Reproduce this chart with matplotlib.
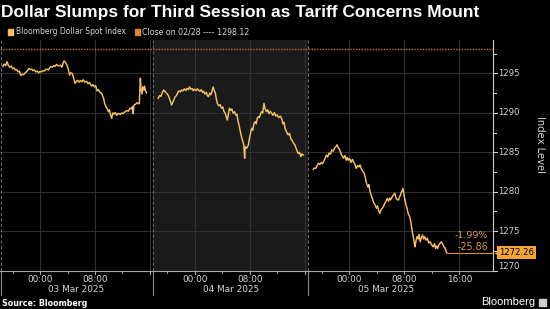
import matplotlib
matplotlib.use("Agg")
import matplotlib.pyplot as plt
import matplotlib.transforms as mtransforms
import numpy as np

# ---------------- data ----------------
# hours relative to 00:00 of each session's date (session opens 18:00 the evening before)
mar03_hours = [-5.4, -5.2, -5.0, -4.8, -4.6, -4.4, -4.2, -4.0, -3.8, -3.6, -3.4, -3.2, -3.0, -2.8, -2.6, -2.4,
               -2.2, -2.0, -1.8, -1.6, -1.4, -1.2, -1.0, -0.8, -0.6, -0.4, -0.2, 0.0, 0.2, 0.4, 0.6, 0.8, 1.0,
               1.2, 1.4, 1.6, 1.8, 2.0, 2.2, 2.4, 2.6, 2.8, 3.0, 3.2, 3.35, 3.5, 3.7, 3.9, 4.1, 4.3, 4.5, 4.7,
               4.9, 5.1, 5.3, 5.5, 5.7, 5.9, 6.1, 6.3, 6.5, 6.8, 7.0, 7.2, 7.5, 7.7, 7.9, 8.1, 8.3, 8.5, 8.7,
               8.95, 9.1, 9.25, 9.4, 9.6, 9.8, 9.95, 10.1, 10.25, 10.43, 10.6, 10.8, 10.95, 11.15, 11.4, 11.65,
               11.9, 12.1, 12.35, 12.6, 12.85, 13.1, 13.3, 13.45, 13.55, 13.65, 13.9, 14.1, 14.3, 14.45, 14.6,
               14.7, 14.85, 14.95, 15.1, 15.2, 15.35, 15.5]
mar03_values = [1295.9, 1296.2, 1296.0, 1296.5, 1296.0, 1295.8, 1295.95, 1295.6, 1295.7, 1295.45, 1295.5,
                1295.2, 1295.3, 1294.75, 1294.9, 1294.85, 1295.05, 1295.2, 1295.4, 1295.65, 1295.5, 1295.55,
                1295.35, 1295.45, 1295.2, 1295.3, 1295.1, 1295.25, 1295.2, 1295.35, 1295.3, 1295.5, 1295.55,
                1295.45, 1295.7, 1295.9, 1295.8, 1296.0, 1295.9, 1296.15, 1296.0, 1295.95, 1296.05, 1295.8,
                1296.3, 1296.6, 1296.4, 1296.1, 1295.6, 1294.8, 1295.1, 1295.0, 1294.4, 1293.75, 1294.0,
                1294.15, 1293.9, 1294.1, 1293.95, 1294.2, 1293.9, 1294.0, 1293.7, 1293.85, 1293.4, 1293.6,
                1293.3, 1293.45, 1292.8, 1292.95, 1292.6, 1292.5, 1292.2, 1291.85, 1291.2, 1290.8, 1290.5,
                1290.15, 1290.4, 1289.8, 1289.3, 1290.0, 1289.85, 1290.05, 1289.7, 1289.95, 1289.8, 1290.0,
                1289.9, 1290.15, 1290.3, 1290.2, 1290.6, 1290.5, 1290.8, 1289.9, 1290.95, 1291.1, 1291.3,
                1291.15, 1291.2, 1294.4, 1293.0, 1292.4, 1293.3, 1292.9, 1293.4, 1292.8, 1292.55]

mar04_hours = [-5.3, -5.1, -4.9, -4.7, -4.5, -4.3, -4.1, -3.9, -3.7, -3.5, -3.35, -3.2, -3.0, -2.85, -2.65,
               -2.45, -2.3, -2.1, -1.9, -1.7, -1.5, -1.3, -1.1, -0.9, -0.75, -0.55, -0.35, -0.2, 0.0, 0.2,
               0.4, 0.55, 0.75, 0.95, 1.15, 1.3, 1.5, 1.7, 1.85, 2.0, 2.2, 2.35, 2.5, 2.7, 2.85, 3.0, 3.1,
               3.3, 3.5, 3.7, 3.9, 4.1, 4.25, 4.45, 4.6, 4.75, 4.9, 5.05, 5.2, 5.4, 5.6, 5.8, 6.0, 6.15, 6.3,
               6.5, 6.65, 6.85, 7.0, 7.15, 7.27, 7.35, 7.55, 7.8, 8.0, 8.15, 8.3, 8.45, 8.6, 8.8, 8.95, 9.1,
               9.25, 9.4, 9.6, 9.75, 9.9, 10.08, 10.25, 10.45, 10.6, 10.8, 11.0, 11.2, 11.4, 11.6, 11.8,
               12.0, 12.2, 12.45, 12.65, 12.85, 13.0, 13.15, 13.35, 13.6, 13.8, 14.0, 14.15, 14.35, 14.6,
               14.8, 15.05, 15.25, 15.45, 15.6, 15.8]
mar04_values = [1291.85, 1292.2, 1292.1, 1292.6, 1292.9, 1292.7, 1292.5, 1292.3, 1291.9, 1291.4, 1291.0,
                1291.3, 1291.7, 1292.05, 1292.2, 1292.6, 1292.8, 1292.65, 1292.9, 1292.8, 1293.05, 1292.85,
                1293.1, 1292.95, 1293.3, 1293.0, 1293.1, 1292.8, 1293.0, 1292.85, 1293.05, 1292.9, 1292.75,
                1292.95, 1292.6, 1292.75, 1292.4, 1292.6, 1292.2, 1292.05, 1292.5, 1292.3, 1292.7, 1293.3,
                1292.8, 1292.55, 1292.0, 1291.2, 1290.9, 1291.05, 1290.6, 1290.75, 1290.2, 1289.95, 1289.5,
                1289.1, 1289.8, 1290.6, 1290.3, 1290.5, 1289.95, 1290.15, 1289.7, 1289.8, 1289.0, 1288.25,
                1287.6, 1286.8, 1286.4, 1285.9, 1284.25, 1285.7, 1285.5, 1285.9, 1286.9, 1287.5, 1288.05,
                1287.8, 1288.6, 1288.9, 1288.6, 1289.3, 1289.5, 1289.4, 1289.9, 1290.15, 1290.0, 1291.2,
                1290.5, 1290.15, 1290.4, 1289.9, 1290.2, 1289.95, 1289.7, 1290.05, 1289.6, 1289.75, 1289.4,
                1289.6, 1289.3, 1288.6, 1288.8, 1288.05, 1287.6, 1287.2, 1287.4, 1286.7, 1286.55, 1286.2,
                1285.9, 1285.4, 1284.85, 1285.0, 1284.45, 1284.8, 1284.65]

mar05_hours = [-5.25, -5.1, -4.9, -4.7, -4.5, -4.3, -4.1, -3.9, -3.75, -3.55, -3.35, -3.15, -2.95, -2.75,
               -2.55, -2.35, -2.15, -1.95, -1.8, -1.6, -1.4, -1.2, -1.0, -0.85, -0.65, -0.45, -0.3, -0.15,
               0.05, 0.25, 0.45, 0.6, 0.8, 1.0, 1.2, 1.4, 1.55, 1.75, 1.95, 2.15, 2.35, 2.5, 2.7, 2.85, 3.0,
               3.2, 3.4, 3.55, 3.75, 3.95, 4.1, 4.25, 4.45, 4.6, 4.8, 4.95, 5.15, 5.35, 5.5, 5.7, 5.85, 6.0,
               6.2, 6.4, 6.6, 6.8, 6.95, 7.15, 7.35, 7.6, 7.8, 7.95, 8.1, 8.25, 8.4, 8.55, 8.75, 8.95, 9.1,
               9.3, 9.45, 9.55, 9.7, 9.85, 10.0, 10.15, 10.3, 10.45, 10.65, 10.8, 10.95, 11.15, 11.35,
               11.55, 11.75, 11.95, 12.2, 12.4, 12.55, 12.7, 12.85, 13.0, 13.2, 13.4, 13.55, 13.75, 13.9,
               14.05, 14.16]
mar05_values = [1282.85, 1283.0, 1282.95, 1283.3, 1283.6, 1283.45, 1283.7, 1283.55, 1283.8, 1284.2, 1284.65,
                1284.4, 1284.9, 1284.75, 1285.3, 1285.15, 1285.55, 1285.7, 1285.95, 1285.6, 1285.3, 1284.8,
                1284.5, 1284.25, 1284.6, 1284.0, 1284.35, 1284.0, 1284.2, 1283.7, 1284.1, 1283.8, 1283.5,
                1282.95, 1283.3, 1283.15, 1283.4, 1282.9, 1282.6, 1282.35, 1281.7, 1281.05, 1280.6, 1280.9,
                1280.0, 1279.5, 1279.0, 1278.6, 1278.3, 1277.9, 1278.2, 1277.6, 1277.25, 1277.7, 1277.9,
                1278.1, 1278.5, 1278.8, 1279.15, 1278.8, 1279.2, 1278.95, 1279.3, 1279.6, 1279.8, 1279.2,
                1279.0, 1278.95, 1279.4, 1280.0, 1280.4, 1279.6, 1278.9, 1278.3, 1277.9, 1277.25, 1276.9,
                1276.2, 1275.2, 1274.3, 1273.5, 1273.0, 1273.8, 1274.3, 1274.0, 1274.6, 1273.65, 1274.1,
                1274.5, 1274.0, 1274.3, 1273.85, 1274.1, 1273.5, 1273.65, 1273.3, 1273.0, 1273.4, 1272.8,
                1273.1, 1272.8, 1273.2, 1273.45, 1273.65, 1273.4, 1273.0, 1272.9, 1272.5, 1272.26]

session_dates = ["03 Mar 2025", "04 Mar 2025", "05 Mar 2025"]
session_tick_labels = [["00:00", "08:00"], ["00:00", "08:00"], ["00:00", "08:00", "16:00"]]
prev_close = 1298.12
prev_close_label = "02/28"
title = "Dollar Slumps for Third Session as Tariff Concerns Mount"
series_name = "Bloomberg Dollar Spot Index"
y_ticks = [1270, 1275, 1280, 1285, 1290, 1295]

# ---------------- scale: trading sessions 18:00 -> 16:30 (22.5 h), closed hours removed ----------------
SESSION_OPEN = 22.5
def axis_x(session_idx, hours):
    return SESSION_OPEN * session_idx + np.asarray(hours, dtype=float)

BG = "#000000"
SHADE = "#1a1a1a"
GRID = "#303030"
LINE = "#f4c160"
ORANGE = "#e8963a"
TXT = "#d4d4d4"

W, H = 550, 309
fig = plt.figure(figsize=(W / 100, H / 100), dpi=100, facecolor=BG)
renderer = fig.canvas.get_renderer()

def fit(t, width_px):
    """scale a text's font size so it spans width_px pixels"""
    bb = t.get_window_extent(renderer=renderer)
    t.set_fontsize(t.get_fontsize() * width_px / bb.width)
    return t

ax_l, ax_r, ax_t, ax_b = 0, 493, 40, 270.5
ax = fig.add_axes([ax_l / W, 1 - ax_b / H, (ax_r - ax_l) / W, (ax_b - ax_t) / H])
ax.set_facecolor(BG)
ax.set_xlim(-5.82, 65.9)
ax.set_ylim(1270, 1299.25)
for s in ax.spines.values():
    s.set_visible(False)
ax.set_xticks([])
ax.set_yticks([])

trans_x = mtransforms.blended_transform_factory(ax.transData, ax.transAxes)
trans_y = mtransforms.blended_transform_factory(ax.transAxes, ax.transData)
AXH = ax_b - ax_t  # axes height in px

# shaded middle session
ax.axvspan(axis_x(1, -6.0), axis_x(2, -6.0), color=SHADE, zorder=0, lw=0)

# horizontal grid
for v in y_ticks[1:]:
    ax.axhline(v, color=GRID, lw=0.8, zorder=1)

# vertical grid at 00,08,16 each session
for k in range(3):
    for hh in (0, 8, 16):
        xv = axis_x(k, hh)
        if xv < 65.9:
            ax.axvline(xv, color=GRID, lw=0.8, zorder=1)

# session separators
seps = [ax.get_xlim()[0] + 0.08, float(axis_x(1, -6.0)), float(axis_x(2, -6.0))]
for xs in seps:
    ax.plot([xs, xs], [0, 1], transform=trans_x, color="#666666", lw=0.8, ls=(0, (3, 2)), zorder=2, clip_on=False)
    ax.plot([xs, xs], [-24 / AXH, 0], transform=trans_x, color="#8a8a8a", lw=0.8, zorder=2, clip_on=False)

# previous close dotted line
ax.axhline(prev_close, color="#c27a32", lw=1.0, ls=(0, (1, 1)), zorder=2)

# series
for k, (hrs, vals) in enumerate([(mar03_hours, mar03_values), (mar04_hours, mar04_values), (mar05_hours, mar05_values)]):
    ax.plot(axis_x(k, hrs), vals, color=LINE, lw=1.05, zorder=4)

# bottom axis line & right axis line
ax.plot([0, 1], [0, 0], transform=ax.transAxes, color="#a8a8a8", lw=0.8, clip_on=False, zorder=5)
ax.plot([1, 1], [0, 1], transform=ax.transAxes, color="#d0d0d0", lw=0.8, clip_on=False, zorder=5)

# x ticks
for k in range(3):
    for hh in (0, 8, 16):
        xv = axis_x(k, hh)
        ax.plot([xv, xv], [0, -3.5 / AXH], transform=trans_x, color="#a8a8a8", lw=0.8, clip_on=False)
    for hh in (-4, 4, 12):
        xv = axis_x(k, hh)
        ax.plot([xv, xv], [0, -2.5 / AXH], transform=trans_x, color="#a8a8a8", lw=0.7, clip_on=False)
    for lab in session_tick_labels[k]:
        hh = int(lab[:2])
        t = ax.text(axis_x(k, hh), -(279 - ax_b) / AXH, lab, transform=trans_x, ha="center", va="center",
                    color=TXT, fontsize=6.4, family="DejaVu Sans")
        fit(t, 25.5)
    t = ax.text(axis_x(k, 5.3), -(290 - ax_b) / AXH, session_dates[k], transform=trans_x, ha="center",
                va="center", color=TXT, fontsize=6.4, family="DejaVu Sans")
    fit(t, 56)

# y ticks on the right
for v in np.arange(1270, 1297.6, 2.5):
    major = abs(v - round(v / 5) * 5) < 1e-6
    ax.plot([1, 1 + (3.5 if major else 2.5) / (ax_r - ax_l)], [v, v], transform=trans_y, color="#d0d0d0",
            lw=0.8, clip_on=False)
for v in y_ticks:
    yy = v + (0.45 if v == 1270 else 0)
    t = ax.text(1 + 5 / (ax_r - ax_l), yy, f"{v}", transform=trans_y, ha="left", va="center", color=TXT,
                fontsize=6.4, family="DejaVu Sans")
    fit(t, 21.5)

t = fig.text(540 / W, 1 - 145 / H, "Index Level", rotation=270, ha="center", va="center", color=TXT,
             fontsize=7.2, family="DejaVu Sans")

# last value marker
last_x = axis_x(2, mar05_hours[-1])
last_v = mar05_values[-1]
ax.plot([last_x, ax.get_xlim()[1]], [last_v, last_v], color=ORANGE, lw=0.7, zorder=3)
chg = last_v - prev_close
pct = chg / prev_close * 100
t = ax.text(0.99, last_v + 2.15, f"{pct:.2f}%", transform=trans_y, ha="right", va="center", color="#d8954a",
            fontsize=6.6, family="DejaVu Sans")
fit(t, 33)
t = ax.text(0.99, last_v + 0.75, f"{chg:.2f}", transform=trans_y, ha="right", va="center", color="#d8954a",
            fontsize=6.6, family="DejaVu Sans")
fit(t, 31)
t = ax.text(1 + 6 / (ax_r - ax_l), last_v, f"{last_v:.2f}", transform=trans_y, ha="left", va="center",
            color="#000000", fontsize=6.4, family="DejaVu Sans",
            bbox=dict(boxstyle="square,pad=0.22", fc="#f2a33a", ec="none"), clip_on=False, zorder=6)
fit(t, 35)
ax.plot([1 + 3.5 / (ax_r - ax_l)], [last_v], marker="<", ms=5, color="#f2a33a", mec="none", transform=trans_y,
        clip_on=False, zorder=6)

# title, legend, footer
t = fig.text(1 / W, 1 - 12.5 / H, title, ha="left", va="center", color="white", fontsize=12.2,
             fontweight="bold", family="Liberation Sans")
fit(t, 477)
fig.patches.append(plt.Rectangle((8 / W, 1 - 34.5 / H), 5 / W, 5 / H, transform=fig.transFigure,
                                 color="#f5c45e", figure=fig))
t = fig.text(15.5 / W, 1 - 31.7 / H, series_name, ha="left", va="center", color=TXT, fontsize=6.3,
             family="DejaVu Sans")
fit(t, 109)
fig.patches.append(plt.Rectangle((135 / W, 1 - 34.5 / H), 5 / W, 5 / H, transform=fig.transFigure,
                                 color="#d8873a", figure=fig))
t = fig.text(141.5 / W, 1 - 31.7 / H, f"Close on {prev_close_label} ---- {prev_close:.2f}", ha="left",
             va="center", color=TXT, fontsize=6.3, family="DejaVu Sans")
fit(t, 108)
t = fig.text(2 / W, 1 - 303 / H, "Source: Bloomberg", ha="left", va="center", color="white", fontsize=7,
             fontweight="bold", family="DejaVu Sans")
fit(t, 85)
t = fig.text(535 / W, 1 - 302 / H, "Bloomberg", ha="right", va="center", color="white", fontsize=8,
             family="Liberation Sans")
fit(t, 54)
fig.patches.append(plt.Rectangle((539 / W, 1 - 305.5 / H), 6.5 / W, 6.5 / H, transform=fig.transFigure,
                                 color="#cfcfcf", figure=fig))

fig.savefig("out.png", dpi=100, facecolor=BG)
